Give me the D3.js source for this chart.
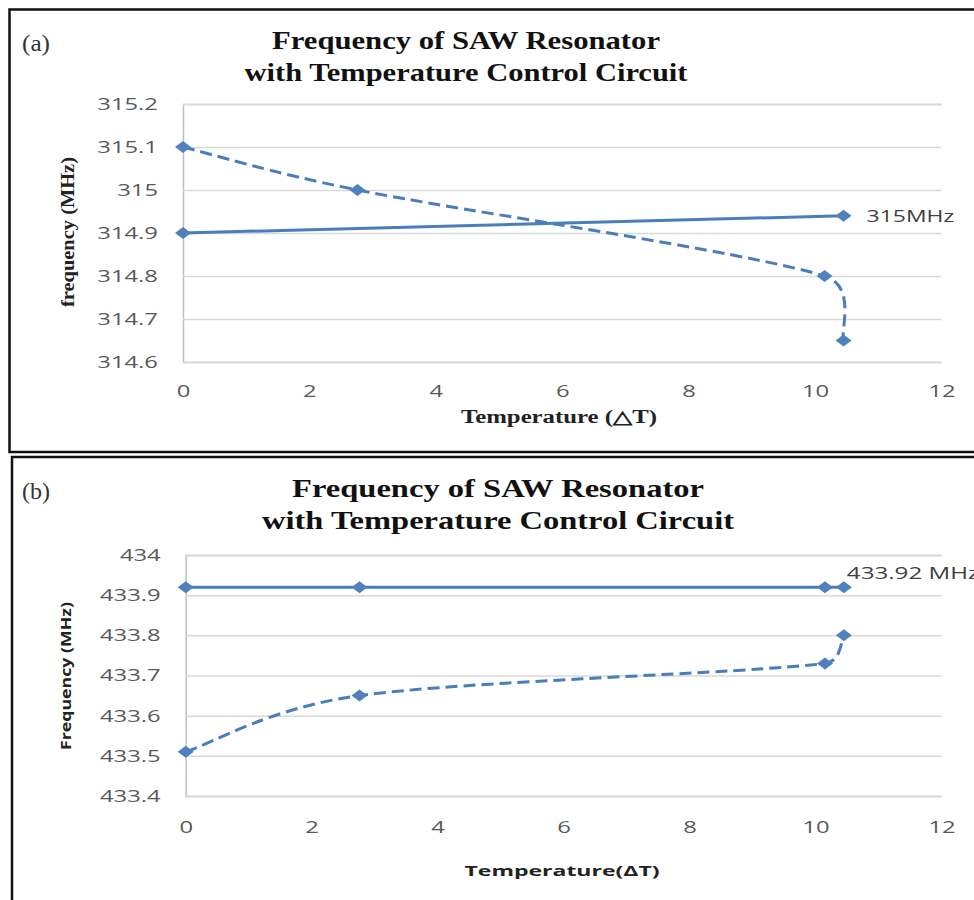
<!DOCTYPE html>
<html><head><meta charset="utf-8">
<script src="https://cdn.jsdelivr.net/npm/d3@7"></script>
<style>body{margin:0;background:#fff}svg{display:block}</style>
</head><body>
<svg id="c" width="974" height="900"></svg>
<script>
// ---- data ----
const xTicks = [0, 2, 4, 6, 8, 10, 12];
const aYTicks = [314.6, 314.7, 314.8, 314.9, 315.0, 315.1, 315.2];
const bYTicks = [433.4, 433.5, 433.6, 433.7, 433.8, 433.9, 434.0];
const aSolidT = [0, 10.45];
const aSolidF = [314.9, 314.94];
const aDashT = [0, 2.76, 10.15, 10.45];
const aDashF = [315.1, 315.0, 314.8, 314.65];
const bSolidT = [0, 2.76, 10.15, 10.45];
const bSolidF = [433.92, 433.92, 433.92, 433.92];
const bDashT = [0, 2.76, 10.15, 10.45];
const bDashF = [433.51, 433.65, 433.73, 433.80];
const titleLines = ["Frequency of SAW Resonator", "with Temperature Control Circuit"];

const svg = d3.select("#c");
const blue = "#4a7ebb";
const tickFont = "'Open Sans', 'Noto Sans', sans-serif";
const stretch = 1.4;

function widen(sel, k) {
  sel.each(function () {
    const w = this.getComputedTextLength();
    d3.select(this).attr("textLength", w * k).attr("lengthAdjust", "spacingAndGlyphs");
  });
}

// Spreadsheet-style smoothed line (Bezier with limited control arms)
function smoothPath(pts) {
  const p = d3.path();
  const dist = (a, b) => Math.hypot(a[0] - b[0], a[1] - b[1]);
  p.moveTo(pts[0][0], pts[0][1]);
  for (let i = 0; i < pts.length - 1; i++) {
    const p0 = pts[Math.max(i - 1, 0)], p1 = pts[i], p2 = pts[i + 1], p3 = pts[Math.min(i + 2, pts.length - 1)];
    const d02 = dist(p0, p2), d12 = dist(p1, p2), d13 = dist(p1, p3);
    let f1 = 1 / 6, f2 = 1 / 6;
    if (d02 / 6 >= d12 / 2) f1 = d12 / 2 / d02;
    if (d13 / 6 >= d12 / 2) f2 = d12 / 2 / d13;
    const c1 = [p1[0] + f1 * (p2[0] - p0[0]), p1[1] + f1 * (p2[1] - p0[1])];
    const c2 = [p2[0] - f2 * (p3[0] - p1[0]), p2[1] - f2 * (p3[1] - p1[1])];
    p.bezierCurveTo(c1[0], c1[1], c2[0], c2[1], p2[0], p2[1]);
  }
  return p.toString();
}

// panel borders
svg.append("rect").attr("x", 9.5).attr("y", 9.5).attr("width", 975).attr("height", 442.5)
  .attr("fill", "none").attr("stroke", "#111").attr("stroke-width", 2.5);
svg.append("rect").attr("x", 12).attr("y", 457).attr("width", 975).attr("height", 460)
  .attr("fill", "none").attr("stroke", "#111").attr("stroke-width", 2.5);

function panel(opt) {
  const g = svg.append("g");
  const x = d3.scaleLinear().domain([0, 12]).range([opt.x0, 941.5]);
  const y = d3.scaleLinear().domain([opt.yTicks[0], opt.yTicks[opt.yTicks.length - 1]]).range([opt.yb, opt.yt]);

  // panel letter
  g.append("text").attr("x", 22).attr("y", opt.letterY).text(opt.letter)
    .attr("font-family", "'Liberation Serif', serif").attr("font-size", 24).attr("fill", "#333")
    .attr("textLength", 28).attr("lengthAdjust", "spacingAndGlyphs");

  // title
  opt.titles.forEach((t, i) => {
    g.append("text").attr("x", opt.tcx).attr("y", opt.tY[i]).attr("text-anchor", "middle")
      .attr("font-family", "'Liberation Serif', serif").attr("font-weight", "bold")
      .attr("font-size", 25).attr("fill", "#111").text(t)
      .attr("textLength", opt.tLen[i]).attr("lengthAdjust", "spacingAndGlyphs");
  });

  // gridlines + y ticks
  const yAxis = d3.axisLeft(y).tickValues(opt.yTicks).tickSize(-(941.5 - opt.x0)).tickPadding(opt.yPad)
    .tickFormat(d => String(+d.toFixed(1)));
  const ya = g.append("g").attr("transform", `translate(${opt.x0},0)`).call(yAxis);
  ya.select(".domain").attr("stroke", "#bfbfbf").attr("stroke-width", 1.5);
  ya.selectAll(".tick line").attr("stroke", "#d9d9d9").attr("stroke-width", 1.5);
  ya.selectAll(".tick text").attr("font-family", tickFont).attr("font-size", 17).attr("fill", "#595959")
    .call(widen, stretch);

  const xAxis = d3.axisBottom(x).tickValues(xTicks).tickSize(0).tickPadding(opt.xPad).tickFormat(d3.format("d"));
  const xa = g.append("g").attr("transform", `translate(0,${opt.yb})`).call(xAxis);
  xa.select(".domain").remove();
  xa.selectAll(".tick text").attr("font-family", tickFont).attr("font-size", 17).attr("fill", "#595959")
    .call(widen, stretch);

  // axis titles
  g.append("text").attr("x", opt.xtX).attr("y", opt.xtY).attr("text-anchor", "middle")
    .attr("font-family", opt.axFont).attr("font-weight", "bold").attr("font-size", opt.axSize)
    .attr("fill", "#222").text(opt.xTitle)
    .attr("textLength", opt.xtLen).attr("lengthAdjust", "spacingAndGlyphs");
  g.append("text").attr("transform", `translate(${opt.ytX},${opt.ytY}) rotate(-90)`).attr("text-anchor", "middle")
    .attr("font-family", opt.axFont).attr("font-weight", "bold").attr("font-size", opt.axSize)
    .attr("fill", "#222").text(opt.yTitle)
    .attr("textLength", opt.ytLen).attr("lengthAdjust", "spacingAndGlyphs");

  // series
  const solid = opt.sT.map((t, i) => [t, opt.sF[i]]);
  const dash = opt.dT.map((t, i) => [t, opt.dF[i]]);
  const lineS = d3.line().x(d => x(d[0])).y(d => y(d[1]));
  g.append("path").attr("d", smoothPath(dash.map(d => [x(d[0]), y(d[1])])))
    .attr("fill", "none").attr("stroke", blue)
    .attr("stroke-width", 3).attr("stroke-dasharray", "12,6");
  g.append("path").attr("d", lineS(solid)).attr("fill", "none").attr("stroke", blue).attr("stroke-width", 3);
  const diamond = "M0,-6L8,0L0,6L-8,0Z";
  g.selectAll(".m").data(solid.concat(dash)).join("path")
    .attr("transform", d => `translate(${x(d[0])},${y(d[1])})`)
    .attr("d", diamond).attr("fill", "#4f81bd");

  // data label
  const last = solid[solid.length - 1];
  g.append("text").attr("x", x(last[0]) + opt.lblDx).attr("y", y(last[1]) + opt.lblDy)
    .attr("font-family", tickFont).attr("font-size", 17).attr("fill", "#404040").text(opt.label)
    .call(widen, opt.lblK);
}

panel({
  letter: "(a)", letterY: 51, x0: 183, yt: 104, yb: 362, yTicks: aYTicks,
  titles: titleLines, tcx: 466, tY: [49, 81], tLen: [388, 443],
  yPad: 25, xPad: 23, xTitle: "Temperature (\u25B3T)", xtX: 559, xtY: 423, xtLen: 196,
  yTitle: "frequency (MHz)", ytX: 74, ytY: 232, ytLen: 150,
  axFont: "'Liberation Serif', serif", axSize: 18,
  sT: aSolidT, sF: aSolidF, dT: aDashT, dF: aDashF,
  label: "315MHz", lblDx: 23, lblDy: 6, lblK: 1.35
});

panel({
  letter: "(b)", letterY: 499, x0: 185.7, yt: 555, yb: 796, yTicks: bYTicks,
  titles: titleLines, tcx: 498, tY: [497, 529], tLen: [412, 472],
  yPad: 25, xPad: 25, xTitle: "Temperature(\u0394T)", xtX: 562, xtY: 876, xtLen: 195,
  yTitle: "Frequency (MHz)", ytX: 71, ytY: 676, ytLen: 148,
  axFont: "'Open Sans', 'Noto Sans', sans-serif", axSize: 15,
  sT: bSolidT, sF: bSolidF, dT: bDashT, dF: bDashF,
  label: "433.92 MHz", lblDx: 3, lblDy: -8, lblK: 1.42
});
</script>
</body></html>
